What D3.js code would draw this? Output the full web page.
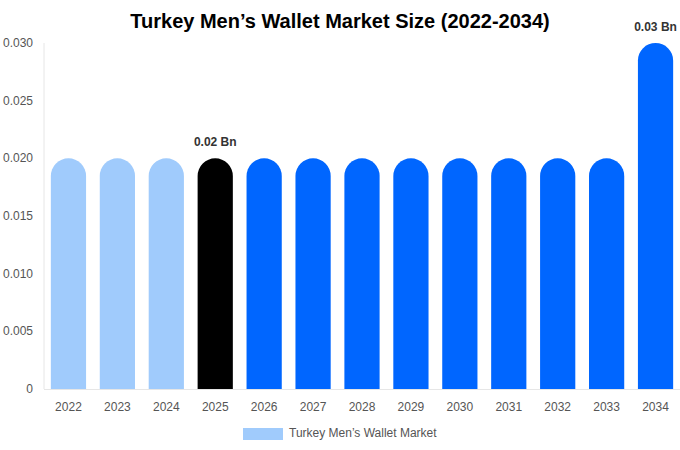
<!DOCTYPE html>
<html><head><meta charset="utf-8">
<script src="https://cdn.jsdelivr.net/npm/d3@7"></script>
<style>body{margin:0;background:#fff;font-family:"Liberation Sans",Arial,sans-serif}</style>
</head><body><svg id="c" width="680" height="450"></svg>
<script>
const years=["2022","2023","2024","2025","2026","2027","2028","2029","2030","2031","2032","2033","2034"];
const values=[0.02,0.02,0.02,0.02,0.02,0.02,0.02,0.02,0.02,0.02,0.02,0.02,0.03];
const colors=["#a0cbfc","#a0cbfc","#a0cbfc","#000000","#0066ff","#0066ff","#0066ff","#0066ff","#0066ff","#0066ff","#0066ff","#0066ff","#0066ff"];
const labels={"2025":"0.02 Bn","2034":"0.03 Bn"};
const yTicks=[0,0.005,0.01,0.015,0.02,0.025,0.03];
const svg=d3.select("#c");
const x=d3.scaleBand().domain(years).range([44,680]).paddingInner(0.28).paddingOuter(0.14);
const y=d3.scaleLinear().domain([0,0.03]).range([389,43]);
svg.append("text").attr("x",340).attr("y",28).attr("text-anchor","middle").attr("font-size",20).attr("font-weight","bold").attr("fill","#000").text("Turkey Men’s Wallet Market Size (2022-2034)");
svg.append("line").attr("x1",44).attr("x2",44).attr("y1",43).attr("y2",389).attr("stroke","#e6e6e6");
svg.append("line").attr("x1",44).attr("x2",680).attr("y1",389.5).attr("y2",389.5).attr("stroke","#e6e6e6");
yTicks.forEach(t=>svg.append("text").attr("x",33).attr("y",y(t)+4).attr("text-anchor","end").attr("font-size",12).attr("fill","#555").text(t===0?"0":t.toFixed(3)));
years.forEach((yr,i)=>{
 const bx=x(yr),w=x.bandwidth(),top=y(values[i]),bot=y(0),r=w/2;
 svg.append("path").attr("fill",colors[i]).attr("d",`M${bx},${bot}V${top+r}A${r},${r} 0 0 1 ${bx+w},${top+r}V${bot}Z`);
 svg.append("text").attr("x",bx+w/2).attr("y",411).attr("text-anchor","middle").attr("font-size",12).attr("fill","#555").text(yr);
 if(labels[yr]) svg.append("text").attr("x",bx+w/2).attr("y",top-12).attr("text-anchor","middle").attr("font-size",12).attr("font-weight","bold").attr("fill","#333").text(labels[yr]);
});
svg.append("rect").attr("x",243).attr("y",428).attr("width",40).attr("height",12).attr("fill","#a0cbfc");
svg.append("text").attr("x",289).attr("y",437).attr("font-size",12).attr("fill","#555").text("Turkey Men’s Wallet Market");
</script></body></html>
